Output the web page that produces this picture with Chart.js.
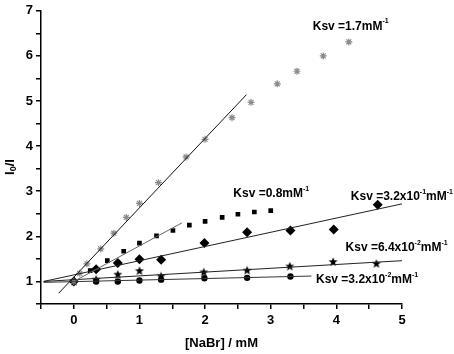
<!DOCTYPE html>
<html>
<head>
<meta charset="utf-8">
<style>
  html, body { margin: 0; padding: 0; background: #fff; }
  #wrap { width: 454px; height: 354px; }
</style>
<script src="https://cdn.jsdelivr.net/npm/chart.js@4/dist/chart.umd.min.js"></script>
</head>
<body>
<div id="wrap"><canvas id="chart" width="454" height="354"></canvas></div>
<script>
// --- data ---
const xTicks = [0, 1, 2, 3, 4, 5];
const yTicks = [1, 2, 3, 4, 5, 6, 7];

// Ksv = 1.7 (grey asterisks)
const concA = [0, 0.09, 0.2, 0.41, 0.61, 0.8, 1.0, 1.29, 1.71, 2.0, 2.41, 2.7, 3.1, 3.4, 3.8, 4.19];
const ratioA = [1, 1.18, 1.39, 1.72, 2.07, 2.42, 2.73, 3.19, 3.76, 4.15, 4.63, 4.97, 5.38, 5.66, 6.0, 6.31];
// Ksv = 0.8 (squares)
const concB = [0, 0.25, 0.51, 0.76, 1.0, 1.26, 1.51, 1.76, 2.0, 2.26, 2.5, 2.75, 3.0];
const ratioB = [1, 1.24, 1.46, 1.67, 1.85, 2.01, 2.13, 2.25, 2.33, 2.42, 2.49, 2.54, 2.57];
// Ksv = 3.2x10^-1 (diamonds)
const concC = [0, 0.34, 0.67, 1.0, 1.33, 1.99, 2.64, 3.3, 3.96, 4.63];
const ratioC = [1, 1.27, 1.41, 1.49, 1.48, 1.85, 2.09, 2.13, 2.15, 2.7];
// Ksv = 6.4x10^-2 (stars)
const concD = [0, 0.34, 0.67, 1.0, 1.33, 1.98, 2.64, 3.29, 3.95, 4.61];
const ratioD = [1, 1.04, 1.15, 1.23, 1.11, 1.2, 1.24, 1.33, 1.43, 1.39];
// Ksv = 3.2x10^-2 (circles)
const concE = [0, 0.34, 0.67, 1.0, 1.33, 1.99, 2.64, 3.3];
const ratioE = [1, 1.0, 1.0, 1.02, 1.04, 1.07, 1.08, 1.11];

// fitted lines, end points as drawn
const fitAx = [-0.23, 2.63], fitAy = [0.74, 5.14];
const fitBx = [0.0, 1.65],   fitBy = [1.0, 2.3];
const fitCx = [-0.46, 5.0],  fitCy = [1.0, 2.72];
const fitDx = [-0.46, 5.0],  fitDy = [1.0, 1.46];
const fitEx = [-0.46, 3.62], fitEy = [0.98, 1.12];

// Ksv labels: anchor (left, middle) in data units
const labelX = [3.64, 2.43, 4.22, 4.14, 3.69];
const labelY = [6.65, 2.94, 2.88, 1.75, 1.04];
const labelParts = [
  [['Ksv =1.7mM', 0], ['-1', 1]],
  [['Ksv =0.8mM', 0], ['-1', 1]],
  [['Ksv =3.2x10', 0], ['-1', 1], ['mM', 0], ['-1', 1]],
  [['Ksv =6.4x10', 0], ['-2', 1], ['mM', 0], ['-1', 1]],
  [['Ksv =3.2x10', 0], ['-2', 1], ['mM', 0], ['-1', 1]]
];

const FONT = '"Liberation Sans", Arial, sans-serif';
const pts = (xs, ys) => xs.map((x, i) => ({ x: x, y: ys[i] }));

// five point star marker
function makeStar(r) {
  const c = document.createElement('canvas');
  c.width = c.height = Math.ceil(2 * r + 2);
  const g = c.getContext('2d');
  const cx = c.width / 2, cy = c.height / 2;
  g.beginPath();
  for (let i = 0; i < 10; i++) {
    const a = -Math.PI / 2 + i * Math.PI / 5;
    const rad = i % 2 ? r * 0.42 : r;
    g.lineTo(cx + rad * Math.cos(a), cy + rad * Math.sin(a));
  }
  g.closePath();
  g.fillStyle = '#000';
  g.fill();
  return c;
}

function drawRich(ctx, x, y, parts, size) {
  let cx = x;
  parts.forEach(([t, sup]) => {
    const s = sup ? Math.round(size * 0.62) : size;
    ctx.font = 'bold ' + s + 'px ' + FONT;
    ctx.fillText(t, cx, sup ? y - size * 0.42 : y);
    cx += ctx.measureText(t).width;
  });
}

const textPlugin = {
  id: 'texts',
  afterDraw(chart) {
    const ctx = chart.ctx;
    const xs = chart.scales.x, ys = chart.scales.y;
    const area = chart.chartArea;
    ctx.save();
    ctx.fillStyle = '#000';
    ctx.textBaseline = 'middle';
    ctx.textAlign = 'left';
    labelParts.forEach((p, i) => {
      drawRich(ctx, xs.getPixelForValue(labelX[i]), ys.getPixelForValue(labelY[i]), p, 12);
    });
    // x title
    ctx.textAlign = 'center';
    ctx.font = 'bold 13px ' + FONT;
    ctx.fillText('[NaBr] / mM', (area.left + area.right) / 2, area.bottom + 39);
    // y title  I0/I
    ctx.translate(10, 167);
    ctx.rotate(-Math.PI / 2);
    ctx.textAlign = 'left';
    const w1 = (ctx.font = 'bold 13px ' + FONT, ctx.measureText('I').width);
    ctx.font = 'bold 9px ' + FONT;
    const w2 = ctx.measureText('0').width;
    ctx.font = 'bold 13px ' + FONT;
    const w3 = ctx.measureText('/I').width;
    let x0 = -(w1 + w2 + w3) / 2;
    ctx.fillText('I', x0, 0);
    ctx.font = 'bold 9px ' + FONT;
    ctx.fillText('0', x0 + w1, 4);
    ctx.font = 'bold 13px ' + FONT;
    ctx.fillText('/I', x0 + w1 + w2, 0);
    ctx.restore();
  }
};

const fitLine = (xs, ys, color) => ({
  type: 'line', data: pts(xs, ys), showLine: true, borderColor: color,
  borderWidth: 1, pointRadius: 0, fill: false
});

new Chart(document.getElementById('chart'), {
  type: 'scatter',
  data: {
    datasets: [
      fitLine(fitAx, fitAy, '#111'),
      fitLine(fitBx, fitBy, '#666'),
      fitLine(fitCx, fitCy, '#222'),
      fitLine(fitDx, fitDy, '#222'),
      fitLine(fitEx, fitEy, '#333'),
      { data: pts(concA, ratioA), pointStyle: 'star', pointRadius: 3.5, borderColor: '#8a8a8a', borderWidth: 1.2, backgroundColor: '#8a8a8a' },
      { data: pts(concB, ratioB), pointStyle: 'rect', pointRadius: 3.3, borderWidth: 0, backgroundColor: '#000' },
      { data: pts(concC, ratioC), pointStyle: 'rectRot', pointRadius: 5, borderWidth: 0, backgroundColor: '#000' },
      { data: pts(concD, ratioD), pointStyle: makeStar(4.8), pointRadius: 5 },
      { data: pts(concE, ratioE), pointStyle: 'circle', pointRadius: 3.2, borderWidth: 0, backgroundColor: '#000' }
    ]
  },
  options: {
    responsive: false,
    animation: false,
    layout: { padding: { left: 0, top: 10, right: 52, bottom: 0 } },
    plugins: { legend: { display: false }, tooltip: { enabled: false } },
    scales: {
      x: {
        type: 'linear', min: -0.5, max: 5,
        afterFit: s => { s.height = 50; },
        border: { color: '#000', width: 1.5 },
        grid: { drawOnChartArea: false, drawTicks: true, tickLength: 5, color: '#000', lineWidth: 1.5 },
        ticks: {
          stepSize: 0.5, autoSkip: false, maxRotation: 0, color: '#000', padding: 4,
          font: { family: FONT, size: 13, weight: 'bold' },
          callback: v => xTicks.includes(v) ? String(v) : ''
        }
      },
      y: {
        type: 'linear', min: 0.5, max: 7,
        afterFit: s => { s.width = 41; },
        border: { color: '#000', width: 1.5 },
        grid: { drawOnChartArea: false, drawTicks: true, tickLength: 5, color: '#000', lineWidth: 1.5 },
        ticks: {
          stepSize: 0.5, autoSkip: false, color: '#000', padding: 3,
          font: { family: FONT, size: 13, weight: 'bold' },
          callback: v => yTicks.includes(v) ? String(v) : ''
        }
      }
    }
  },
  plugins: [textPlugin]
});
</script>
</body>
</html>
